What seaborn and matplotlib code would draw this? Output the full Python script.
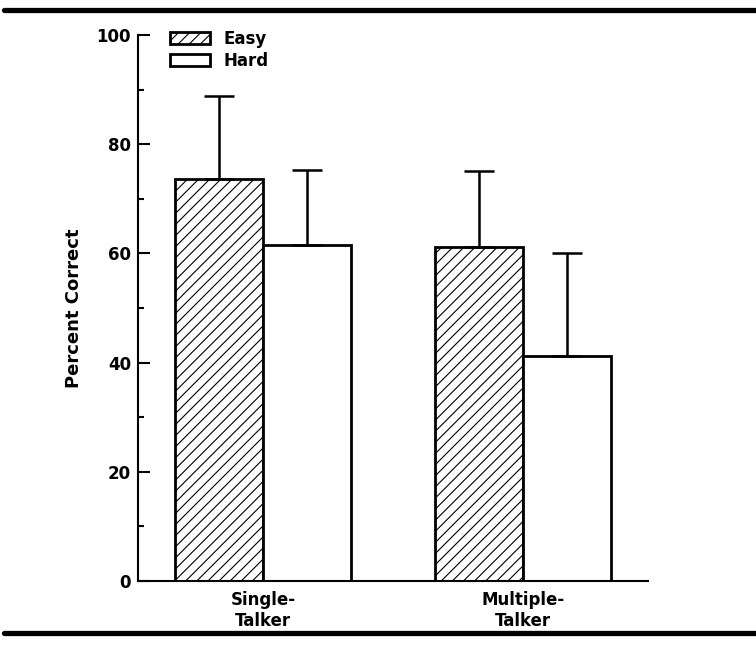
import pandas as pd
import matplotlib.pyplot as plt
import seaborn as sns
from matplotlib.lines import Line2D

# values
talkers = ['Single-\nTalker', 'Multiple-\nTalker']
conditions = ['Easy', 'Hard']
easy_mean = [73.7, 61.2]
hard_mean = [61.6, 41.3]
easy_err = [15.1, 13.8]
hard_err = [13.7, 18.7]

df = pd.DataFrame({
    'Talker': talkers * 2,
    'Condition': ['Easy'] * 2 + ['Hard'] * 2,
    'Percent': easy_mean + hard_mean,
})
upper_err = {'Easy': easy_err, 'Hard': hard_err}

sns.set_style('ticks')
plt.rcParams['font.family'] = ['DejaVu Sans']
plt.rcParams['font.weight'] = 'bold'
plt.rcParams['hatch.linewidth'] = 0.8
for k in ['text.color', 'axes.labelcolor', 'xtick.color', 'ytick.color',
          'axes.edgecolor']:
    plt.rcParams[k] = 'black'

fig = plt.figure(figsize=(7.56, 6.54), dpi=100)
ax = fig.add_axes([0.1825, 0.1116, 0.6746, 0.8349])

sns.barplot(data=df, x='Talker', y='Percent', hue='Condition',
            order=talkers, hue_order=conditions,
            palette=['white', 'white'], edgecolor='black', linewidth=2,
            width=0.677, errorbar=None, ax=ax)

# hatch the easy bars, add one-sided error bars
for cont, cond in zip(ax.containers, conditions):
    for i, p in enumerate(cont.patches):
        if cond == 'Easy':
            p.set_hatch('///')
        x = p.get_x() + p.get_width() / 2
        y = p.get_height()
        ax.errorbar(x, y, yerr=[[0], [upper_err[cond][i]]], fmt='none',
                    ecolor='black', elinewidth=1.8, capsize=11, capthick=1.8,
                    zorder=1)

ax.legend(ax.containers, conditions, loc='upper left',
          bbox_to_anchor=(0.063, 1.009), frameon=False, borderpad=0,
          borderaxespad=0, handlelength=2.4, handleheight=0.7,
          handletextpad=0.78, labelspacing=0.22,
          prop={'size': 12, 'weight': 'bold'})

ax.set_xlim(-0.481, 1.481)
ax.set_ylim(0, 100)
ax.set_yticks([0, 20, 40, 60, 80, 100])
ax.set_yticks([10, 30, 50, 70, 90], minor=True)
ax.tick_params(axis='y', which='major', direction='in', length=8.5, width=1.5,
               labelsize=12, pad=5)
ax.tick_params(axis='y', which='minor', direction='in', length=4.5, width=1.5)
ax.tick_params(axis='x', length=0, labelsize=12, pad=7)
ax.set_xlabel('')
ax.set_ylabel('Percent Correct', fontsize=13, fontweight='bold', labelpad=10)
for s in ['top', 'right']:
    ax.spines[s].set_visible(False)
for s in ['left', 'bottom']:
    ax.spines[s].set_linewidth(1.5)

# thick rules above and below the figure
fig.add_artist(Line2D([0.005, 1.0], [0.984, 0.984], color='black', lw=3.8))
fig.add_artist(Line2D([0.005, 1.0], [0.032, 0.032], color='black', lw=3.8))

fig.savefig('out.png', dpi=100)
